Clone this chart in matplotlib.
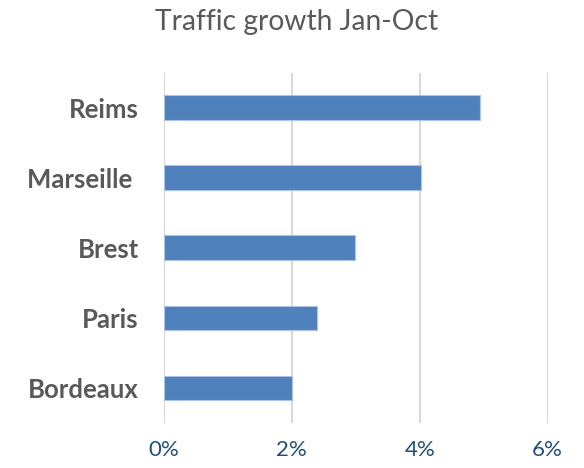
import matplotlib.pyplot as plt
from matplotlib.ticker import FuncFormatter

plt.rcParams['font.family'] = ['Lato', 'DejaVu Sans']

cities = ["Bordeaux", "Paris", "Brest", "Marseille ", "Reims"]
growth = [2.0, 2.39, 2.99, 4.02, 4.95]
x_ticks = [0, 2, 4, 6]

fig = plt.figure(figsize=(5.84, 4.68), dpi=100)
ax = fig.add_axes([0.2808, 0.0962, 0.6567, 0.7488])

ax.barh(cities, growth, height=0.35, color="#4F81BD", edgecolor="#A9C4E6",
        linewidth=0.8, zorder=3)

ax.set_xlim(0, 6)
ax.set_ylim(-0.5, 4.5)
ax.set_xticks(x_ticks)
ax.xaxis.set_major_formatter(FuncFormatter(lambda v, p: "%d%%" % v))
ax.grid(axis="x", color="#D9D9D9", linewidth=1.5, zorder=0)
for s in ax.spines.values():
    s.set_visible(False)
ax.tick_params(axis="both", length=0)
ax.tick_params(axis="x", colors="#1F4E79", labelsize=16, pad=12)
ax.tick_params(axis="y", colors="#595959", labelsize=18.5, pad=18)
for lbl in ax.get_yticklabels():
    lbl.set_fontweight("bold")

fig.text(0.508, 0.952, "Traffic growth Jan-Oct", ha="center", va="center",
         fontsize=20.3, color="#595959")

fig.savefig("out.png", dpi=100)
